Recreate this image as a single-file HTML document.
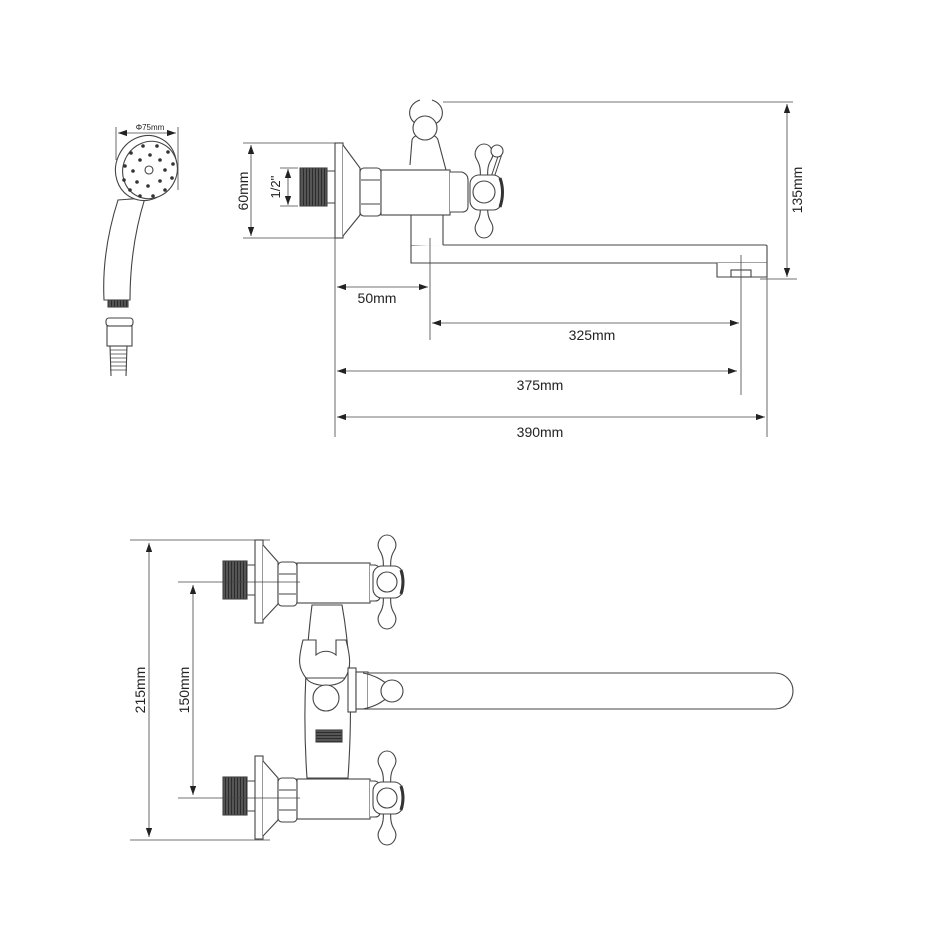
<!DOCTYPE html>
<html><head><meta charset="utf-8"><style>
html,body{margin:0;padding:0;background:#fff;}
svg{display:block;}
text{font-family:"Liberation Sans",Arial,sans-serif;fill:#222;}
</style></head><body>
<svg width="936" height="928" viewBox="0 0 936 928" xmlns="http://www.w3.org/2000/svg">
<defs>
<marker id="a" viewBox="0 0 10 10" refX="10" refY="5" markerWidth="9" markerHeight="9" orient="auto-start-reverse" markerUnits="userSpaceOnUse"><path d="M0,1.5 L10,5 L0,8.5 Z" fill="#222"/></marker>
<pattern id="th" width="3" height="3" patternUnits="userSpaceOnUse"><rect width="3" height="3" fill="#555"/><rect width="0.8" height="3" fill="#222"/></pattern>
<pattern id="thh" width="3" height="3" patternUnits="userSpaceOnUse"><rect width="3" height="3" fill="#555"/><rect width="3" height="0.8" fill="#222"/></pattern>
<g id="wing"><path d="M-4,0 C-4,-14 -2,-22 -7,-30 C-12,-38 -6,-46 0,-46 C6,-46 12,-38 7,-30 C2,-22 4,-14 4,0" fill="#fff" stroke="#444" stroke-width="1.1"/></g>
</defs>
<g fill="none" stroke="#444" stroke-width="1.1">

<!-- ===== Shower head ===== -->
<line x1="116" y1="127" x2="116" y2="160" stroke-width="0.8"/>
<line x1="178" y1="127" x2="178" y2="190" stroke-width="0.8"/>
<line x1="118" y1="133" x2="176" y2="133" marker-start="url(#a)" marker-end="url(#a)" stroke-width="0.8"/>
<path d="M104,300 C102,260 110,225 118,200 L145,198 C135,230 130,265 130,300 Z" fill="#fff"/>
<ellipse cx="146" cy="168" rx="30" ry="33" transform="rotate(25 146 168)" fill="#fff"/>
<ellipse cx="150" cy="170" rx="27" ry="29" transform="rotate(25 150 170)" fill="#fff"/>
<g fill="#333" stroke="none">
<circle cx="140" cy="160" r="1.8"/><circle cx="150" cy="155" r="1.8"/><circle cx="160" cy="160" r="1.8"/><circle cx="165" cy="170" r="1.8"/><circle cx="160" cy="181" r="1.8"/><circle cx="148" cy="186" r="1.8"/><circle cx="137" cy="182" r="1.8"/><circle cx="133" cy="171" r="1.8"/>
<circle cx="130" cy="190" r="1.8"/><circle cx="124" cy="180" r="1.8"/><circle cx="125" cy="166" r="1.8"/><circle cx="131" cy="153" r="1.8"/><circle cx="143" cy="146" r="1.8"/><circle cx="157" cy="146" r="1.8"/><circle cx="168" cy="152" r="1.8"/><circle cx="173" cy="164" r="1.8"/><circle cx="172" cy="178" r="1.8"/><circle cx="165" cy="190" r="1.8"/><circle cx="153" cy="196" r="1.8"/><circle cx="140" cy="196" r="1.8"/>
</g>
<circle cx="149" cy="170" r="4" fill="#fff"/>
<rect x="108" y="300" width="20" height="7" fill="url(#th)" stroke="#444"/>
<rect x="106" y="318" width="27" height="8" rx="3" fill="#fff"/>
<rect x="107" y="326" width="25" height="20" fill="#fff"/>
<path d="M110,346 L111,376 M127,346 L126,376" />
<path d="M110,350 L127,350 M110,354 L127,354 M110,358 L127,358 M110,362 L127,362 M110,366 L127,366 M110,370 L127,370" stroke-width="0.7"/>

<!-- ===== Top view ===== -->
<!-- dims 60mm & 1/2 -->
<line x1="243" y1="143" x2="335" y2="143" stroke-width="0.8"/>
<line x1="243" y1="238" x2="335" y2="238" stroke-width="0.8"/>
<line x1="251" y1="145" x2="251" y2="236" marker-start="url(#a)" marker-end="url(#a)" stroke-width="0.8"/>
<line x1="280" y1="168" x2="298" y2="168" stroke-width="0.8"/>
<line x1="280" y1="206" x2="298" y2="206" stroke-width="0.8"/>
<line x1="288" y1="169" x2="288" y2="205" marker-start="url(#a)" marker-end="url(#a)" stroke-width="0.8"/>
<!-- thread -->
<rect x="300" y="168" width="27" height="38" fill="url(#th)"/>
<path d="M327,171 L335,171 M327,203 L335,203"/>
<!-- plate -->
<rect x="335" y="143" width="8" height="95" fill="#fff"/>
<path d="M343,145 L360,168 L360,215 L343,236" fill="#fff"/>
<!-- hook / holder -->
<path d="M420,100 C405,105 408,122 418,124 M432,100 C447,105 444,122 434,124"/>
<path d="M410,165 L412,140 C414,132 436,132 438,140 L446,170" fill="#fff"/>
<circle cx="425" cy="128" r="12" fill="#fff"/>
<!-- bottom outlet -->
<rect x="411" y="213" width="32" height="33" fill="#fff"/>
<!-- nut -->
<rect x="360" y="168" width="21" height="48" rx="4" fill="#fff"/>
<path d="M361,180 L380,180 M361,204 L380,204"/>
<!-- body -->
<rect x="381" y="170" width="69" height="45" fill="#fff"/>
<path d="M450,172 L462,172 Q468,174 468,180 L468,206 Q468,212 462,212 L450,212" fill="#fff"/>
<!-- handle -->
<g transform="translate(484,190)"><use href="#wing"/></g>
<path d="M493,176 L500,155" stroke-width="4" stroke="#444"/><path d="M493,176 L500,155" stroke-width="2" stroke="#fff"/>
<circle cx="497" cy="151" r="6" fill="#fff"/>
<g transform="translate(484,192) rotate(180)"><use href="#wing"/></g>
<rect x="470" y="175" width="32" height="35" rx="9" fill="#fff"/>
<path d="M500,178 Q505,192 500,207" stroke-width="3" stroke="#333"/>
<circle cx="484" cy="192" r="11" fill="#fff"/>
<!-- spout -->
<path d="M411,246 L411,263 L767,263 L767,246 Q767,245 765,245 L443,245" fill="#fff"/>
<path d="M717,263 L717,277 L767,277 L767,263" fill="#fff"/>
<rect x="731" y="270" width="20" height="7" fill="#fff"/>
<!-- 135mm dim -->
<line x1="443" y1="102" x2="793" y2="102" stroke-width="0.8"/>
<line x1="760" y1="279" x2="797" y2="279" stroke-width="0.8"/>
<line x1="787" y1="104" x2="787" y2="277" marker-start="url(#a)" marker-end="url(#a)" stroke-width="0.8"/>
<!-- extension lines -->
<line x1="335" y1="238" x2="335" y2="437" stroke-width="0.8"/>
<line x1="430" y1="238" x2="430" y2="340" stroke-width="0.8"/>
<line x1="741" y1="255" x2="741" y2="395" stroke-width="0.8"/>
<line x1="767" y1="263" x2="767" y2="437" stroke-width="0.8"/>
<line x1="337" y1="287" x2="428" y2="287" marker-start="url(#a)" marker-end="url(#a)" stroke-width="0.8"/>
<line x1="432" y1="323" x2="739" y2="323" marker-start="url(#a)" marker-end="url(#a)" stroke-width="0.8"/>
<line x1="337" y1="371" x2="737" y2="371" marker-start="url(#a)" marker-end="url(#a)" stroke-width="0.8"/>
<line x1="337" y1="417" x2="765" y2="417" marker-start="url(#a)" marker-end="url(#a)" stroke-width="0.8"/>

<!-- ===== Bottom view ===== -->
<line x1="130" y1="540" x2="270" y2="540" stroke-width="0.8"/>
<line x1="130" y1="840" x2="270" y2="840" stroke-width="0.8"/>
<line x1="149" y1="543" x2="149" y2="837" marker-start="url(#a)" marker-end="url(#a)" stroke-width="0.8"/>
<line x1="193" y1="585" x2="193" y2="795" marker-start="url(#a)" marker-end="url(#a)" stroke-width="0.8"/>

<!-- central column -->
<path d="M312,605 C305,660 303,720 307,778 L348,778 C352,720 352,660 342,605 Z" fill="#fff"/>
<rect x="316" y="730" width="26" height="12" fill="url(#thh)"/>
<!-- holder -->
<path d="M303,640 C298,660 298,668 306,678 L345,678 C352,668 350,655 346,640 L336,640 L336,655 C330,650 322,650 316,655 L316,640 Z" fill="#fff"/>
<path d="M306,678 C312,688 340,688 345,678"/>
<circle cx="326" cy="698" r="13" fill="#fff"/>
<!-- spout -->
<rect x="348" y="668" width="8" height="44" fill="#fff"/>
<rect x="356" y="672" width="12" height="37" fill="#fff"/>
<path d="M368,673 L395,673 L775,673 A18,18 0 0 1 775,709 L368,709" fill="#fff"/>
<path d="M363,673 C378,676 384,682 390,686 M363,709 C378,706 384,700 390,696"/>
<circle cx="392" cy="691" r="11" fill="#fff"/>

<!-- valves -->
<g id="valve">
<rect x="223" y="561" width="24" height="38" fill="url(#th)"/>
<path d="M247,565 L255,565 M247,595 L255,595"/>
<rect x="255" y="540" width="8" height="83" fill="#fff"/>
<path d="M263,545 L278,562 L278,604 L263,620" fill="#fff"/>
<rect x="278" y="562" width="19" height="44" rx="4" fill="#fff"/>
<path d="M279,574 L296,574 M279,594 L296,594"/>
<rect x="297" y="563" width="73" height="40" fill="#fff"/>
<path d="M370,565 L375,565 Q380,566 380,572 L380,596 Q380,601 375,601 L370,601" fill="#fff"/>
<g transform="translate(387,581)"><use href="#wing"/></g>
<g transform="translate(387,583) rotate(180)"><use href="#wing"/></g>
<rect x="373" y="566" width="30" height="32" rx="9" fill="#fff"/>
<path d="M401,570 Q405,582 401,594" stroke-width="3" stroke="#333"/>
<circle cx="387" cy="582" r="10" fill="#fff"/>
<line x1="178" y1="582" x2="300" y2="582" stroke-width="0.8"/>
</g>
<use href="#valve" transform="translate(0,216)"/>
</g>

<!-- text -->
<text x="150" y="130" font-size="8" text-anchor="middle">Φ75mm</text>
<text transform="translate(248,191) rotate(-90)" font-size="14" text-anchor="middle">60mm</text>
<text transform="translate(280,187) rotate(-90)" font-size="13" text-anchor="middle">1/2''</text>
<text transform="translate(802,190) rotate(-90)" font-size="14" text-anchor="middle">135mm</text>
<text x="377" y="303" font-size="14" text-anchor="middle">50mm</text>
<text x="592" y="340" font-size="14" text-anchor="middle">325mm</text>
<text x="540" y="390" font-size="14" text-anchor="middle">375mm</text>
<text x="540" y="437" font-size="14" text-anchor="middle">390mm</text>
<text transform="translate(145,690) rotate(-90)" font-size="14" text-anchor="middle">215mm</text>
<text transform="translate(189,690) rotate(-90)" font-size="14" text-anchor="middle">150mm</text>
</svg>
</body></html>
